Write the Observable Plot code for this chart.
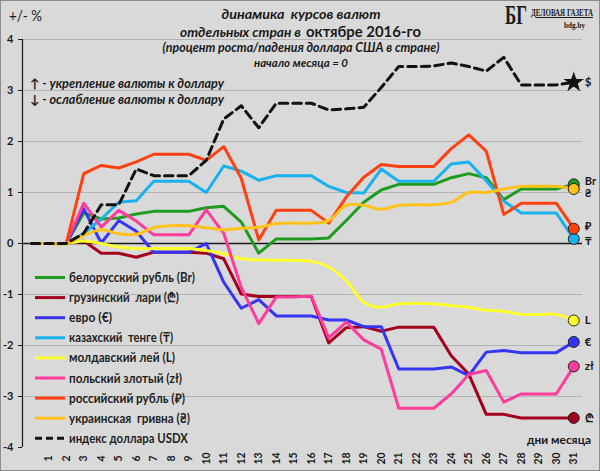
<!DOCTYPE html>
<html><head><meta charset="utf-8">
<script src="https://cdn.jsdelivr.net/npm/d3@7"></script>
<script src="https://cdn.jsdelivr.net/npm/@observablehq/plot@0.6"></script>
<style>
body{margin:0;background:#d9d9d9;}
#chart{width:600px;height:471px;}
svg text{font-family:Lato,"Open Sans",sans-serif;}
</style>
</head><body><div id="chart"></div>
<script>
// ---- data (percent change of USD vs currency since start of October 2016) ----
const days = [0,1,2,3,4,5,6,7,8,9,10,11,12,13,14,15,16,17,18,19,20,21,22,23,24,25,26,27,28,29,30,31];
const xTicks = [1,2,3,4,5,6,7,8,9,10,11,12,13,14,15,16,17,18,19,20,21,22,23,24,25,26,27,28,29,30,31];
const yTicks = [-4,-3,-2,-1,0,1,2,3,4];
const yGrid = [-3,-2,-1,1,2,3,4];

const belarus = [0,0,0,0.6,0.48,0.5,0.58,0.63,0.63,0.63,0.7,0.73,0.42,-0.19,0.09,0.09,0.09,0.11,0.45,0.81,1.05,1.16,1.16,1.16,1.29,1.37,1.29,0.86,1.07,1.07,1.07,1.16];
const georgia = [0,0,0,0.05,-0.19,-0.19,-0.27,-0.17,-0.17,-0.17,-0.19,-0.3,-0.99,-1.04,-1.04,-1.04,-1.04,-1.95,-1.65,-1.63,-1.72,-1.64,-1.64,-1.64,-2.2,-2.56,-3.35,-3.35,-3.42,-3.42,-3.42,-3.42];
const euro = [0,0,0,0.68,0.01,0.45,0.24,-0.17,-0.17,-0.17,0.0,-0.76,-1.27,-1.1,-1.42,-1.42,-1.42,-1.5,-1.5,-1.63,-1.63,-2.46,-2.46,-2.46,-2.42,-2.59,-2.13,-2.1,-2.14,-2.14,-2.14,-1.93];
const kazakh = [0,0,0,0.2,0.48,0.81,0.84,1.22,1.22,1.22,1.0,1.52,1.42,1.24,1.33,1.33,1.33,1.12,1.0,0.99,1.46,1.22,1.22,1.22,1.56,1.6,1.23,0.83,0.6,0.6,0.6,0.09];
const moldova = [0,0,0,0.05,0,-0.07,-0.1,-0.1,-0.1,-0.1,-0.14,-0.2,-0.3,-0.32,-0.33,-0.33,-0.35,-0.46,-0.73,-1.15,-1.25,-1.18,-1.17,-1.18,-1.22,-1.25,-1.31,-1.33,-1.39,-1.39,-1.39,-1.51];
const poland = [0,0,0,0.79,0.32,0.65,0.44,0.17,0.17,0.17,0.66,0.2,-0.86,-1.57,-1.05,-1.05,-1.03,-1.85,-1.54,-1.89,-2.07,-3.23,-3.23,-3.23,-2.95,-2.57,-2.49,-3.11,-2.95,-2.95,-2.95,-2.41];
const russia = [0,0,0,1.37,1.53,1.48,1.6,1.75,1.75,1.75,1.63,1.9,1.28,0.07,0.65,0.65,0.65,0.4,0.91,1.3,1.55,1.51,1.51,1.51,1.86,2.13,1.81,0.57,0.79,0.79,0.79,0.29];
const ukraine = [0,0,0,0.16,0.27,0.19,0.18,0.31,0.35,0.35,0.31,0.27,0.3,0.32,0.39,0.4,0.4,0.45,0.75,0.75,0.67,0.75,0.76,0.76,0.81,1.0,1.0,1.07,1.12,1.12,1.12,1.07];
const usdx = [0,0,0,0.2,0.76,0.76,1.46,1.33,1.33,1.33,1.63,2.44,2.7,2.27,2.75,2.75,2.75,2.62,2.64,2.67,3.06,3.47,3.47,3.48,3.54,3.47,3.38,3.65,3.11,3.11,3.11,3.16];

const names = ["белорусский рубль (Br)","грузинский  лари (₾)","евро (€)","казахский  тенге (₸)","молдавский лей (L)","польский злотый (zł)","российский рубль (₽)","украинская  гривна (₴)","индекс доллара USDX"];
const symbols = ["Br","₾","€","₸","L","zł","₽","₴","$"];
const colors = ["#1f9b1f","#a3001e","#3535f5","#19b2ee","#ffff2e","#ff3c9c","#ff4010","#ffc21a","#111111"];
const valuesList = [belarus,georgia,euro,kazakh,moldova,poland,russia,ukraine,usdx];

// ---- build tables ----
const series = names.map((name,i)=>({
  name, sym: symbols[i], color: colors[i],
  smooth: (i===4 || i===7), dashed: i===8,
  rows: days.map((d,j)=>({day:d, value:valuesList[i][j]}))
}));
const ends = series.map(s=>({day: days[days.length-1], value: s.rows[s.rows.length-1].value, color: s.color, sym: s.sym, dashed: s.dashed}));
const xDomain = [-0.5, 31.5];

const lineMarks = series.map(s => Plot.line(s.rows, {
  x:"day", y:"value", stroke: s.color, strokeWidth: 3,
  curve: s.smooth ? "catmull-rom" : "linear",
  strokeDasharray: s.dashed ? "8.5,5" : null,
  strokeLinejoin: "round"
}));

// label nudges for the crowded end labels
const labelDy = {"Br": -3, "₴": 5, "₽": -2, "₸": 3};
const labelMarks = ["Br","₴","₽","₸"].map(sym =>
  Plot.text(ends.filter(e=>e.sym===sym), {x:"day", y:"value", text:"sym", dx:11, dy: labelDy[sym], textAnchor:"start", fontSize:11, fontWeight:"bold", fill:"#1a1a1a"})
);

const plot = Plot.plot({
  width: 600, height: 471,
  marginLeft: 22, marginRight: 18, marginTop: 39, marginBottom: 24,
  style: {background: "#d9d9d9", fontFamily: "Lato, sans-serif", overflow: "visible", color: "#1a1a1a"},
  x: {domain: xDomain, axis: null},
  y: {domain: [-4, 4], axis: null},
  marks: [
    Plot.gridY(yGrid, {stroke: "#b4b4b4", strokeOpacity: 1, strokeWidth: 1}),
    Plot.ruleY([0], {stroke: "#1a1a1a", strokeWidth: 1.5}),
    Plot.ruleX([xDomain[0]], {stroke: "#1a1a1a", strokeWidth: 1.2}),
    Plot.axisY({ticks: yTicks, tickFormat: d => String(d), label: null, tickSize: 4, tickPadding: 5, fontSize: 11, fontWeight: "bold", stroke: "#1a1a1a", fill: "#1a1a1a"}),
    Plot.text(xTicks, {x: d=>d, frameAnchor: "bottom", dy: 11, rotate: -90, textAnchor: "middle", lineAnchor: "middle", fontSize: 10.5, fontWeight: "bold", fill: "#1a1a1a"}),
    ...lineMarks,
    Plot.dot(ends.filter(e=>!e.dashed), {x:"day", y:"value", fill:"color", stroke:"#222", strokeWidth:1, r:5.5}),
    Plot.dot(ends.filter(e=>e.dashed), {x:"day", y:"value", fill:"#111", symbol:"star", r:6.5}),
    Plot.dot(ends.filter(e=>e.dashed), {x:"day", y:"value", fill:"#111", r:4.5}),
    Plot.text(ends.filter(e=>!(e.sym in labelDy)), {x:"day", y:"value", text:"sym", dx:11, textAnchor:"start", fontSize:11.5, fontWeight:"bold", fill:"#1a1a1a"}),
    ...labelMarks
  ]
});
document.getElementById("chart").appendChild(plot);

// ---- annotations (titles, legend, logo) ----
const svg = d3.select(plot);
svg.insert("rect", ":first-child").attr("x",0.5).attr("y",0.5).attr("width",599).attr("height",470).attr("fill","#d9d9d9").attr("stroke","#8c8c8c");

function txt(str, x, y, o){
  const t = svg.append("text").attr("x",x).attr("y",y).text(str)
    .attr("font-size", o.size).attr("font-weight", o.weight||"bold")
    .attr("font-style", o.italic ? "italic" : "normal")
    .attr("text-anchor", o.anchor||"start").attr("fill", o.fill||"#1a1a1a");
  if (o.family) t.attr("font-family", o.family).style("font-family", o.family);
  if (o.len) t.attr("textLength", o.len).attr("lengthAdjust","spacingAndGlyphs");
  if (o.deco) t.attr("text-decoration", o.deco);
  return t;
}
txt("+/- %", 9, 21, {size:15, weight:"normal", len:33});
txt("динамика  курсов валют", 301, 19, {size:14, italic:true, anchor:"middle", len:159});
txt("отдельных стран в", 180, 37, {size:13, italic:true, len:121});
txt("октябре 2016-го", 306, 37, {size:15, italic:false, len:115});
txt("(процент роста/падения доллара США в стране)", 301, 52, {size:12.5, italic:true, anchor:"middle", len:277});
txt("начало месяца = 0", 301, 67, {size:11, italic:true, anchor:"middle", len:94});
txt("↑ - укрепление валюты к доллару", 30, 88, {size:12.5, italic:true, len:194});
txt("↓ - ослабление валюты к доллару", 30, 104, {size:12.5, italic:true, len:194});
txt("дни месяца", 527, 444, {size:12, len:64});

// logo
txt("БГ", 505, 24, {size:27, family:"Liberation Serif", len:22});
txt("ДЕЛОВАЯ ГАЗЕТА", 531, 16, {size:10, family:"Liberation Serif", len:62, deco:"underline"});
txt("bdg.by", 564, 28, {size:9, family:"Liberation Serif", len:21});

// legend
const legendLens = [126,110,43,104,106,113,116,121,119];
const lg = svg.append("g");
series.forEach((s,i)=>{
  const y = 277.5 + i*20.1;
  lg.append("line").attr("x1",35).attr("x2",65).attr("y1",y).attr("y2",y)
    .attr("stroke", s.color).attr("stroke-width",3)
    .attr("stroke-dasharray", s.dashed ? "7,4" : null);
  lg.append("text").attr("x",69).attr("y",y+4.5).text(s.name)
    .attr("text-anchor","start")
    .attr("font-size",13).attr("font-weight","bold").attr("fill","#1f1f1f")
    .attr("textLength", legendLens[i]).attr("lengthAdjust","spacingAndGlyphs");
});
</script>
</body></html>
